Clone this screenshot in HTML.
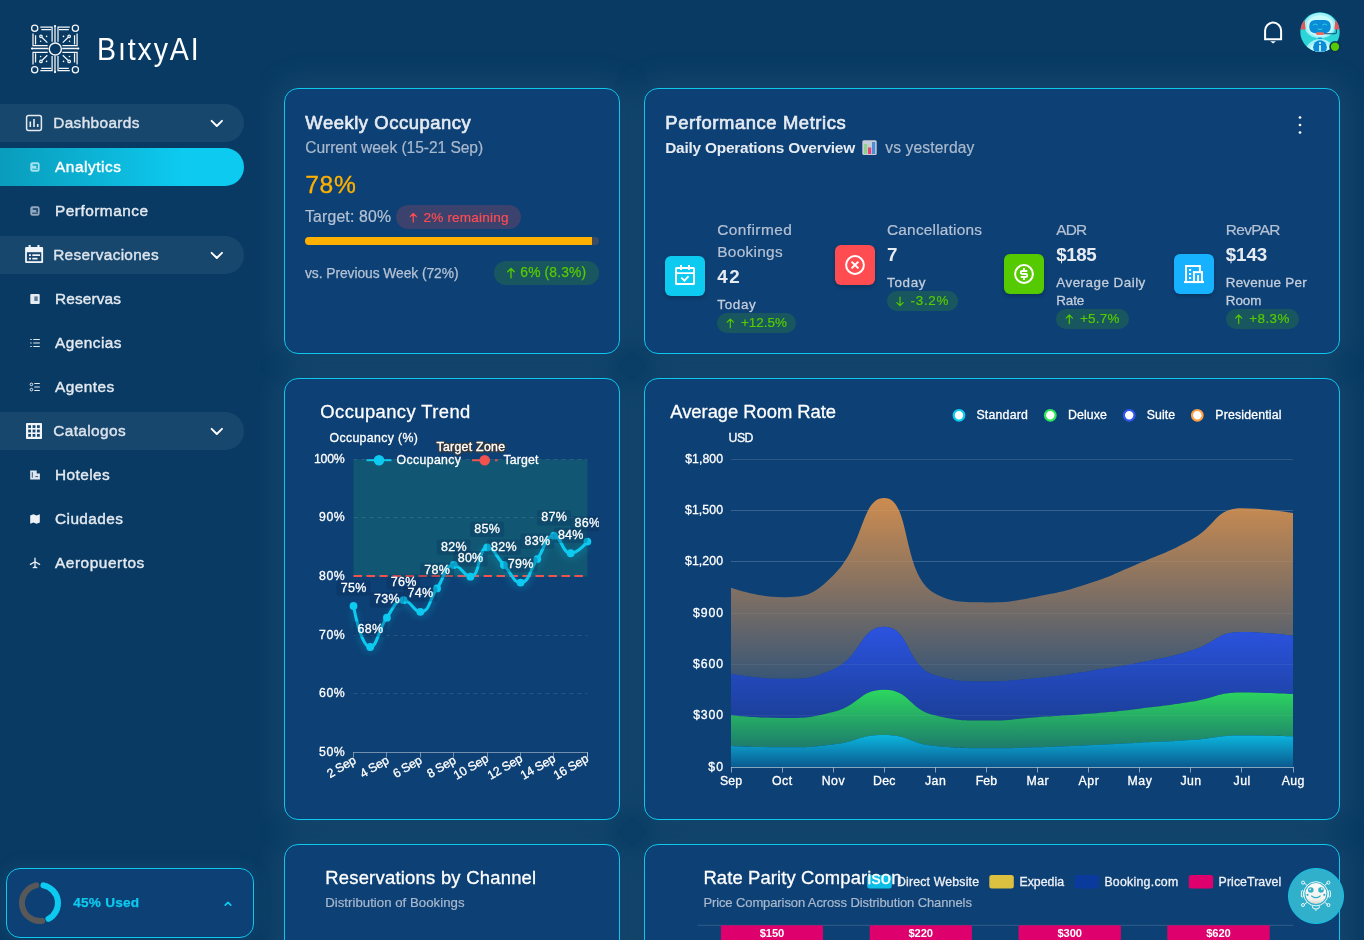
<!DOCTYPE html>
<html lang="en"><head><meta charset="utf-8"><title>BıtxyAI - Analytics</title>
<style>
html,body{margin:0;padding:0}
body{width:1364px;height:940px;overflow:hidden;background:#083a63;font-family:"Liberation Sans",sans-serif;position:relative;color:#fff}
.t{position:absolute;white-space:nowrap;line-height:1;color:#fff}
.abs{position:absolute}
.card{position:absolute;box-sizing:border-box;background:#0d4074;border:1px solid #0fc6ec;border-radius:14px}
.sh{position:absolute;border-radius:14px;box-shadow:0 0 32px 8px rgba(120,170,190,.12)}
.pill{position:absolute;left:0;width:244px;height:38px;border-radius:0 19px 19px 0;background:rgba(255,255,255,.068)}
.pill.on{background:linear-gradient(90deg,#0a9cbc 0%,#0cb4d6 40%,#0dcaf0 75%)}
.badge{position:absolute;box-sizing:border-box;border-radius:12px}
.bg-g{background:rgba(86,202,0,.17)}
.bg-r{background:rgba(255,76,81,.19)}
.ib{position:absolute;width:40px;height:40px;border-radius:6px;box-shadow:0 2px 4px rgba(0,0,0,.2)}
svg{position:absolute;left:0;top:0;overflow:visible}
</style></head><body>
<div class="sh" style="left:284px;top:844px;width:336px;height:140px"></div><div class="sh" style="left:644px;top:844px;width:696px;height:140px"></div><div class="sh" style="left:284px;top:88px;width:336px;height:266px"></div><div class="sh" style="left:644px;top:88px;width:696px;height:266px"></div><div class="sh" style="left:284px;top:378px;width:336px;height:442px"></div><div class="sh" style="left:644px;top:378px;width:696px;height:442px"></div><div id="sidebar-bg" class="abs" style="left:0;top:0;width:260px;height:940px;background:#083a63"></div><div class="sh" style="left:6px;top:868px;width:248px;height:70px;box-shadow:0 0 18px 2px rgba(120,170,190,.10)"></div>
<div class="card" style="left:284px;top:844px;width:336px;height:140px"></div>
<div class="card" style="left:644px;top:844px;width:696px;height:140px"></div>
<span class="t" style="left:325.2px;top:868.82px;font-size:18.4px;letter-spacing:0.251px;-webkit-text-stroke:.3px #fff;">Reservations by Channel</span>
<span class="t" style="left:325.2px;top:896.23px;font-size:13.2px;color:#a9b9ce;letter-spacing:0.033px;-webkit-text-stroke:.2px #a9b9ce;">Distribution of Bookings</span>
<svg width="1364" height="940" viewBox="0 0 1364 940" fill="none"><path d="M697.700 925.300H1293" stroke="rgba(255,255,255,.15)" stroke-width="1"/><rect x="867.2" y="875" width="24.500" height="13.500" rx="2.500" fill="#0dbfe6"/><rect x="989.3" y="875" width="24.500" height="13.500" rx="2.500" fill="#dcc040"/><rect x="1074.5" y="875" width="24.500" height="13.500" rx="2.500" fill="#0a3a9c"/><rect x="1188.7" y="875" width="24.500" height="13.500" rx="2.500" fill="#de006c"/><rect x="720.9" y="925.300" width="102.1" height="20" fill="#de006c"/><rect x="869.7" y="925.300" width="102.2" height="20" fill="#de006c"/><rect x="1018.5" y="925.300" width="102.4" height="20" fill="#de006c"/><rect x="1167.3" y="925.300" width="102.4" height="20" fill="#de006c"/></svg>
<span class="t" style="left:703.4px;top:868.82px;font-size:18.4px;letter-spacing:0.132px;-webkit-text-stroke:.3px #fff;">Rate Parity Comparison</span>
<span class="t" style="left:703.4px;top:896.4px;font-size:13px;color:#a9b9ce;letter-spacing:-0.105px;-webkit-text-stroke:.2px #a9b9ce;">Price Comparison Across Distribution Channels</span>
<span class="t" style="left:897px;top:875.89px;font-size:12.3px;color:#eef1f6;letter-spacing:0.174px;-webkit-text-stroke:.3px #eef1f6;">Direct Website</span>
<span class="t" style="left:1019.5px;top:875.89px;font-size:12.3px;color:#eef1f6;letter-spacing:0.008px;-webkit-text-stroke:.3px #eef1f6;">Expedia</span>
<span class="t" style="left:1104.4px;top:875.89px;font-size:12.3px;color:#eef1f6;letter-spacing:0.271px;-webkit-text-stroke:.3px #eef1f6;">Booking.com</span>
<span class="t" style="left:1218.6px;top:875.89px;font-size:12.3px;color:#eef1f6;letter-spacing:0.087px;-webkit-text-stroke:.3px #eef1f6;">PriceTravel</span>
<span class="t" style="left:759.7px;top:927.92px;font-size:11.2px;font-weight:700;letter-spacing:-0.097px;">$150</span>
<span class="t" style="left:908.5px;top:927.92px;font-size:11.2px;font-weight:700;letter-spacing:-0.097px;">$220</span>
<span class="t" style="left:1057.4px;top:927.92px;font-size:11.2px;font-weight:700;letter-spacing:-0.097px;">$300</span>
<span class="t" style="left:1206.2px;top:927.92px;font-size:11.2px;font-weight:700;letter-spacing:-0.097px;">$620</span>
<div class="abs" style="left:1288px;top:868px;width:56px;height:56px;border-radius:50%;background:#31b0cb;box-sizing:border-box;border:1px solid #12c4ea"></div>
<svg width="1364" height="940" viewBox="0 0 1364 940" fill="none" stroke="#fff" stroke-width=".9">
<defs><linearGradient id="fg" x1="0" y1="0" x2="0" y2="1"><stop offset="0" stop-color="#fafaf8"/><stop offset=".75" stop-color="#f3f2ee"/><stop offset="1" stop-color="#d9d6cf"/></linearGradient></defs>
<circle cx="1315.900" cy="893.800" r="12.100"/>
<circle cx="1315.900" cy="893.600" r="10.500" fill="url(#fg)" stroke="none"/>
<circle cx="1310.800" cy="890" r="2.800" fill="#31b0cb" stroke="none"/><circle cx="1321" cy="890" r="2.800" fill="#31b0cb" stroke="none"/>
<circle cx="1310.200" cy="889.300" r=".9" fill="#f5f5f3" stroke="none"/><circle cx="1321.900" cy="889" r=".9" fill="#f5f5f3" stroke="none"/>
<path d="M1311.600 896q4.300 3.400 8.600 0" stroke="#31b0cb" stroke-width="1.200" stroke-linecap="round"/>
<circle cx="1307.500" cy="894.800" r="1.100" fill="#31b0cb" stroke="none"/><circle cx="1324.300" cy="894.800" r="1.100" fill="#31b0cb" stroke="none"/>
<path d="M1307.200 885.400l-3-2.400M1324.600 885.400l3-2.400M1307.200 902.200l-3 2.400M1324.600 902.200l3 2.400"/>
<circle cx="1303" cy="882.600" r="1.500"/><circle cx="1328.400" cy="882.600" r="1.500"/><circle cx="1303" cy="905" r="1.500"/><circle cx="1328.400" cy="905" r="1.500"/>
<rect x="1301.400" y="890.600" width="2" height="6.600" rx="1"/><rect x="1328.400" y="890.600" width="2" height="6.600" rx="1"/>
<path d="M1312.500 906.200v1.600q3.400 2.600 6.800 0v-1.600M1314.800 909.300l1.100 1.200 1.100-1.200"/>
</svg>
<svg width="1364" height="940" viewBox="0 0 1364 940" fill="none" stroke="#f4f6f9" stroke-width="1.250"><g id="logo"><circle cx="34.700" cy="28.150" r="3.100"/><circle cx="75.400" cy="28.150" r="3.100"/><circle cx="34.700" cy="69.650" r="3.100"/><circle cx="75.400" cy="69.650" r="3.100"/><circle cx="55.300" cy="49" r="6.050" stroke-width="1.400"/><path d="M55 26V42.300M55 55.800V72M32 48.500H48.400M62.200 48.500H78.200" stroke-width="1.300"/><circle cx="55" cy="26" r="1.100" fill="#fff" stroke="none"/><circle cx="55" cy="72.100" r="1.100" fill="#fff" stroke="none"/><circle cx="32" cy="48.500" r="1.100" fill="#fff" stroke="none"/><circle cx="78.300" cy="48.500" r="1.100" fill="#fff" stroke="none"/><g><path d="M40.300 27.100H52.100V41.700M41.300 29.550H51.100M33 33.400V45.500H47.700M35.550 35.300V44.500"/><circle cx="40.950" cy="36.350" r="1.250"/><path d="M42.100 37.500L47.300 42.600"/><circle cx="46.600" cy="36.400" r=".8" fill="#fff" stroke="none"/><circle cx="40.600" cy="41.300" r=".8" fill="#fff" stroke="none"/></g><g transform="translate(110.100 0) scale(-1 1)"><path d="M40.300 27.100H52.100V41.700M41.300 29.550H51.100M33 33.400V45.500H47.700M35.550 35.300V44.500"/><circle cx="40.950" cy="36.350" r="1.250"/><path d="M42.100 37.500L47.300 42.600"/><circle cx="46.600" cy="36.400" r=".8" fill="#fff" stroke="none"/><circle cx="40.600" cy="41.300" r=".8" fill="#fff" stroke="none"/></g><g transform="translate(0 97.800) scale(1 -1)"><path d="M40.300 27.100H52.100V41.700M41.300 29.550H51.100M33 33.400V45.500H47.700M35.550 35.300V44.500"/><circle cx="40.950" cy="36.350" r="1.250"/><path d="M42.100 37.500L47.300 42.600"/><circle cx="46.600" cy="36.400" r=".8" fill="#fff" stroke="none"/><circle cx="40.600" cy="41.300" r=".8" fill="#fff" stroke="none"/></g><g transform="translate(110.100 97.800) scale(-1 -1)"><path d="M40.300 27.100H52.100V41.700M41.300 29.550H51.100M33 33.400V45.500H47.700M35.550 35.300V44.500"/><circle cx="40.950" cy="36.350" r="1.250"/><path d="M42.100 37.500L47.300 42.600"/><circle cx="46.600" cy="36.400" r=".8" fill="#fff" stroke="none"/><circle cx="40.600" cy="41.300" r=".8" fill="#fff" stroke="none"/></g></g></svg>
<span class="t" style="left:96.6px;top:34.06px;font-size:31px;letter-spacing:2.049px;transform:scaleX(.92);transform-origin:0 0;">BıtxyAI</span>
<div class="pill" style="top:104px"></div>
<div class="pill" style="top:236px"></div>
<div class="pill" style="top:412px"></div>
<div class="pill on" style="top:148px"></div>
<span class="t" style="left:53.2px;top:114.96px;font-size:15.4px;color:#dde4ed;letter-spacing:0.367px;-webkit-text-stroke:.4px #dde4ed;">Dashboards</span>
<span class="t" style="left:53.2px;top:246.96px;font-size:15.4px;color:#dde4ed;letter-spacing:0.307px;-webkit-text-stroke:.4px #dde4ed;">Reservaciones</span>
<span class="t" style="left:53.2px;top:423.46px;font-size:15.4px;color:#dde4ed;letter-spacing:0.398px;-webkit-text-stroke:.4px #dde4ed;">Catalogos</span>
<span class="t" style="left:55px;top:158.96px;font-size:15.4px;letter-spacing:0.551px;-webkit-text-stroke:.4px #fff;">Analytics</span>
<span class="t" style="left:55px;top:202.96px;font-size:15.4px;color:#e4e9f0;letter-spacing:0.489px;-webkit-text-stroke:.4px #e4e9f0;">Performance</span>
<span class="t" style="left:55px;top:290.96px;font-size:15.4px;color:#e4e9f0;letter-spacing:0.141px;-webkit-text-stroke:.4px #e4e9f0;">Reservas</span>
<span class="t" style="left:55px;top:334.96px;font-size:15.4px;color:#e4e9f0;letter-spacing:0.453px;-webkit-text-stroke:.4px #e4e9f0;">Agencias</span>
<span class="t" style="left:55px;top:378.96px;font-size:15.4px;color:#e4e9f0;letter-spacing:0.453px;-webkit-text-stroke:.4px #e4e9f0;">Agentes</span>
<span class="t" style="left:55px;top:466.96px;font-size:15.4px;color:#e4e9f0;letter-spacing:0.435px;-webkit-text-stroke:.4px #e4e9f0;">Hoteles</span>
<span class="t" style="left:55px;top:510.96px;font-size:15.4px;color:#e4e9f0;letter-spacing:0.424px;-webkit-text-stroke:.4px #e4e9f0;">Ciudades</span>
<span class="t" style="left:55px;top:554.96px;font-size:15.4px;color:#e4e9f0;letter-spacing:0.544px;-webkit-text-stroke:.4px #e4e9f0;">Aeropuertos</span>
<svg width="1364" height="940" viewBox="0 0 1364 940" fill="none"><path d="M211.6 120.8 L216.8 126 L222 120.8" stroke="#fff" stroke-width="1.9" stroke-linecap="round" stroke-linejoin="round"/><path d="M211.6 252.8 L216.8 258 L222 252.8" stroke="#fff" stroke-width="1.9" stroke-linecap="round" stroke-linejoin="round"/><path d="M211.6 428.8 L216.8 434 L222 428.8" stroke="#fff" stroke-width="1.9" stroke-linecap="round" stroke-linejoin="round"/><rect x="26.6" y="115.6" width="14.8" height="14.8" rx="2" stroke="#e6ebf2" stroke-width="1.5"/><path d="M30.3 121.5V127M34 119V127M37.7 124V127" stroke="#e6ebf2" stroke-width="1.6"/><rect x="25.100" y="247.100" width="18" height="15.900" rx="1" fill="#f1f4f8"/><rect x="28.600" y="245" width="2.100" height="3.500" fill="#f1f4f8"/><rect x="37.400" y="245" width="2.100" height="3.500" fill="#f1f4f8"/><rect x="26.900" y="252.200" width="14.400" height="9" fill="#1a4770"/><rect x="29" y="254.300" width="2" height="1.700" fill="#f1f4f8"/><rect x="32.300" y="254.300" width="7.700" height="1.700" fill="#f1f4f8"/><rect x="29" y="257.800" width="2" height="1.700" fill="#f1f4f8"/><rect x="32.300" y="257.800" width="5.200" height="1.700" fill="#f1f4f8"/><rect x="26" y="423" width="16" height="16" rx=".8" fill="#f1f4f8"/><rect x="28.2" y="425.2" width="2.800" height="2.800" fill="#1a4770"/><rect x="28.2" y="429.59999999999997" width="2.800" height="2.800" fill="#1a4770"/><rect x="28.2" y="434.0" width="2.800" height="2.800" fill="#1a4770"/><rect x="32.6" y="425.2" width="2.800" height="2.800" fill="#1a4770"/><rect x="32.6" y="429.59999999999997" width="2.800" height="2.800" fill="#1a4770"/><rect x="32.6" y="434.0" width="2.800" height="2.800" fill="#1a4770"/><rect x="37.0" y="425.2" width="2.800" height="2.800" fill="#1a4770"/><rect x="37.0" y="429.59999999999997" width="2.800" height="2.800" fill="#1a4770"/><rect x="37.0" y="434.0" width="2.800" height="2.800" fill="#1a4770"/><rect x="30.300" y="162.2" width="9.300" height="9.500" rx="2.200" fill="#a4e2f0"/><path d="M32.700 165h4.400v3.300" stroke="#0aa4c6" stroke-width="1.500" fill="none"/><path d="M32.200 169.2h5.700" stroke="#0aa4c6" stroke-width="1"/><rect x="30.300" y="206.2" width="9.300" height="9.500" rx="2.200" fill="#93a7bd"/><path d="M32.700 209h4.400v3.300" stroke="#0b3963" stroke-width="1.500" fill="none"/><path d="M32.200 213.2h5.700" stroke="#0b3963" stroke-width="1"/><rect x="30.3" y="294" width="9.4" height="10" rx="1" fill="#e6ebf2"/><rect x="34.3" y="296.4" width="3.4" height="4.6" fill="#5b7a9a"/><path d="M30.3 339.5h1.4M33.3 339.5h6.5M30.3 343h1.4M33.3 343h6.5M30.3 346.5h1.4M33.3 346.5h6.5" stroke="#e6ebf2" stroke-width="1.2"/><path d="M34.3 383.5h5.5M34.3 387h5.5M34.3 390.5h5.5" stroke="#e6ebf2" stroke-width="1.2"/><circle cx="31.4" cy="384.4" r="1.3" stroke="#e6ebf2" stroke-width="1"/><circle cx="31.4" cy="389.6" r="1.3" stroke="#e6ebf2" stroke-width="1"/><path d="M30.2 470.4h6.5v3h3.2v6.2h-9.7z" fill="#dfe5ee"/><path d="M32.3 472.2v5.5M35.4 476.6h2.6" stroke="#335577" stroke-width="1"/><path d="M30.2 515.4l3.2 -1.2 3.2 1.2 3.2 -1.2v8.4l-3.2 1.2 -3.2 -1.2 -3.2 1.2z" fill="#eef1f6"/><path d="M35 558.2v9.5M30.4 564.4l4.6 -2.6 4.6 2.6M33.2 567.8l1.8 -1 1.8 1" stroke="#eef1f6" stroke-width="1.3" stroke-linejoin="round" stroke-linecap="round"/></svg>
<div class="card" style="left:6px;top:868px;width:248px;height:70px"></div>
<svg width="1364" height="940" viewBox="0 0 1364 940" fill="none"><path d="M42.19 920.87A18 18 0 0 1 36.26 885.39" stroke="#585858" stroke-width="6" stroke-linecap="round"/><path d="M43.43 885.33A18 18 0 0 1 48.45 918.89" stroke="#0dcaf0" stroke-width="6" stroke-linecap="round"/><path d="M225.200 905.200L228 902.400L230.800 905.200" stroke="#0dcaf0" stroke-width="1.700" stroke-linecap="round" stroke-linejoin="round"/></svg>
<span class="t" style="left:73.2px;top:896.49px;font-size:13.6px;font-weight:700;color:#0dcaf0;letter-spacing:0.252px;-webkit-text-stroke:.25px #0dcaf0;">45% Used</span>
<svg width="1364" height="940" viewBox="0 0 1364 940" fill="none">
<path d="M1265.1 39.3V30.6a8 8 0 0 1 16 0V39.3Z" stroke="#fff" stroke-width="2" stroke-linejoin="miter"/>
<path d="M1270.2 41.2h5.8l-2.9 2.4z" fill="#fff"/>
<g id="avatar">
<clipPath id="avc"><circle cx="1320" cy="32" r="19.700"/></clipPath>
<g clip-path="url(#avc)">
<rect x="1300" y="12" width="40" height="40" fill="#2bd5d8"/>
<ellipse cx="1320" cy="25.400" rx="15.600" ry="12.700" fill="#9ff1f7"/>
<ellipse cx="1320" cy="25.800" rx="13.200" ry="10.600" fill="#c6fbfd"/>
<path d="M1300.400 29.600c.2-4.600 1.800-8.200 4.200-10l1 10z" fill="#e4565c"/><path d="M1339.600 29.600c-.2-4.600-1.800-8.200-4.200-10l-1 10z" fill="#e4565c"/>
<rect x="1309.300" y="19.900" width="21.400" height="13.400" rx="5.800" fill="#0a8cd8"/>
<path d="M1313.200 24.800q2.100-2 4.200 0M1322.600 24.800q2.100-2 4.200 0M1317.900 28.900q2.100 1.900 4.200 0" stroke="#2bd5d8" stroke-width="1" stroke-linecap="round"/>
<path d="M1336.400 29.600v2.600q0 1.500-1.800 1.500H1322" stroke="#124a7c" stroke-width="1.100"/>
<rect x="1316" y="32.300" width="8" height="2.600" rx="1.300" fill="#ee6a5c"/>
<rect x="1318.200" y="37.600" width="3.600" height="1.300" fill="#0a8cd8"/>
<ellipse cx="1320" cy="53.500" rx="15" ry="14.600" fill="#9ff1f7"/>
<ellipse cx="1320" cy="54.500" rx="11.500" ry="13" fill="#c6fbfd"/>
<circle cx="1320" cy="47.200" r="6.900" fill="#0a8cd8"/>
<rect x="1319.200" y="45.200" width="1.600" height="6.500" fill="#e9fdff"/><circle cx="1320" cy="43" r="1" fill="#e9fdff"/>
</g>
<circle cx="1335" cy="46.800" r="5.700" fill="#0a2f5e"/><circle cx="1335" cy="46.800" r="4.200" fill="#56ca00"/>
</g></svg>
<div class="card" style="left:284px;top:88px;width:336px;height:266px"></div>
<span class="t" style="left:305.3px;top:113.62px;font-size:18.4px;color:#e6ebf2;letter-spacing:0.561px;-webkit-text-stroke:.65px #e6ebf2;">Weekly Occupancy</span>
<span class="t" style="left:305.2px;top:140.29px;font-size:15.6px;color:#a9b9ce;letter-spacing:-0.062px;-webkit-text-stroke:.2px #a9b9ce;">Current week (15-21 Sep)</span>
<span class="t" style="left:305.3px;top:173.48px;font-size:24.6px;color:#ffb000;letter-spacing:0.633px;-webkit-text-stroke:.35px #ffb000;">78%</span>
<span class="t" style="left:305px;top:209.13px;font-size:15.8px;color:#b4c2d4;letter-spacing:0.169px;-webkit-text-stroke:.2px #b4c2d4;">Target: 80%</span>
<div class="badge bg-r" style="left:395.6px;top:205px;width:125.4px;height:24px"></div>
<span class="t" style="left:423.4px;top:210.79px;font-size:13.6px;color:#ff4c51;letter-spacing:0.189px;-webkit-text-stroke:.2px #ff4c51;">2% remaining</span>
<div class="abs" style="left:305px;top:237px;width:294px;height:8px;border-radius:4px;background:#3a4b63;overflow:hidden"><div style="width:287px;height:8px;background:#ffb000"></div></div>
<span class="t" style="left:305px;top:266.72px;font-size:13.8px;color:#b4c2d4;letter-spacing:-0.052px;-webkit-text-stroke:.25px #b4c2d4;">vs. Previous Week (72%)</span>
<div class="badge bg-g" style="left:494.3px;top:261px;width:104.700px;height:24px"></div>
<span class="t" style="left:520.3px;top:266.02px;font-size:13.8px;color:#56ca00;letter-spacing:0.172px;-webkit-text-stroke:.25px #56ca00;">6% (8.3%)</span>
<svg width="1364" height="940" viewBox="0 0 1364 940"><path d="M413.3 222.10000000000002V213.5M410.2 216.6L413.3 213.5L416.40000000000003 216.6" stroke="#ff4c51" stroke-width="1.25" fill="none" stroke-linecap="round" stroke-linejoin="round"/><path d="M511 277.9V268.5M507.7 271.8L511 268.5L514.3 271.8" stroke="#56ca00" stroke-width="1.3" fill="none" stroke-linecap="round" stroke-linejoin="round"/></svg>
<div class="card" style="left:644px;top:88px;width:696px;height:266px"></div>
<span class="t" style="left:665.3px;top:113.62px;font-size:18.4px;color:#e6ebf2;letter-spacing:0.602px;-webkit-text-stroke:.65px #e6ebf2;">Performance Metrics</span>
<span class="t" style="left:665.2px;top:140.46px;font-size:15.4px;font-weight:700;color:#e6ebf2;letter-spacing:-0.21px;">Daily Operations Overview</span>
<span class="t" style="left:885.3px;top:140.29px;font-size:15.6px;color:#a9b9ce;letter-spacing:0.132px;-webkit-text-stroke:.2px #a9b9ce;">vs yesterday</span>
<div class="ib" style="left:665px;top:256px;background:#0dcaf0"></div>
<div class="ib" style="left:835px;top:245px;background:#ff4c51"></div>
<div class="ib" style="left:1004px;top:254px;background:#56ca00"></div>
<div class="ib" style="left:1174px;top:254px;background:#16b1ff"></div>
<span class="t" style="left:717.3px;top:222.26px;font-size:15.4px;color:#b4c1d4;letter-spacing:0.425px;-webkit-text-stroke:.2px #b4c1d4;">Confirmed</span>
<span class="t" style="left:717.3px;top:244.06px;font-size:15.4px;color:#b4c1d4;letter-spacing:0.282px;-webkit-text-stroke:.2px #b4c1d4;">Bookings</span>
<span class="t" style="left:717.3px;top:267.79px;font-size:18.8px;font-weight:700;color:#e6ebf2;letter-spacing:1.509px;">42</span>
<span class="t" style="left:717.3px;top:297.86px;font-size:13.4px;color:#c3cddb;letter-spacing:0.691px;-webkit-text-stroke:.3px #c3cddb;">Today</span>
<div class="badge bg-g" style="left:717.3px;top:313.2px;width:78.5px;height:20px;border-radius:10px"></div>
<span class="t" style="left:740.9px;top:316.16px;font-size:13.4px;color:#56ca00;letter-spacing:0.041px;-webkit-text-stroke:.2px #56ca00;">+12.5%</span>
<span class="t" style="left:887px;top:222.26px;font-size:15.4px;color:#b4c1d4;letter-spacing:0.216px;-webkit-text-stroke:.2px #b4c1d4;">Cancellations</span>
<span class="t" style="left:887px;top:245.99px;font-size:18.8px;font-weight:700;color:#e6ebf2;">7</span>
<span class="t" style="left:887px;top:276.06px;font-size:13.4px;color:#c3cddb;letter-spacing:0.691px;-webkit-text-stroke:.3px #c3cddb;">Today</span>
<div class="badge bg-g" style="left:887px;top:291.2px;width:71px;height:20px;border-radius:10px"></div>
<span class="t" style="left:910.6px;top:294.16px;font-size:13.4px;color:#56ca00;letter-spacing:0.704px;-webkit-text-stroke:.2px #56ca00;">-3.2%</span>
<span class="t" style="left:1056.3px;top:222.26px;font-size:15.4px;color:#b4c1d4;letter-spacing:-0.9px;-webkit-text-stroke:.2px #b4c1d4;">ADR</span>
<span class="t" style="left:1056.3px;top:245.99px;font-size:18.8px;font-weight:700;color:#e6ebf2;letter-spacing:-0.427px;">$185</span>
<span class="t" style="left:1056.3px;top:276.06px;font-size:13.4px;color:#c3cddb;letter-spacing:0.49px;-webkit-text-stroke:.3px #c3cddb;">Average Daily</span>
<span class="t" style="left:1056.3px;top:293.86px;font-size:13.4px;color:#c3cddb;letter-spacing:-0.099px;-webkit-text-stroke:.3px #c3cddb;">Rate</span>
<div class="badge bg-g" style="left:1056.3px;top:309.1px;width:72.3px;height:20px;border-radius:10px"></div>
<span class="t" style="left:1079.9px;top:312.06px;font-size:13.4px;color:#56ca00;letter-spacing:0.289px;-webkit-text-stroke:.2px #56ca00;">+5.7%</span>
<span class="t" style="left:1225.7px;top:222.26px;font-size:15.4px;color:#b4c1d4;letter-spacing:-0.615px;-webkit-text-stroke:.2px #b4c1d4;">RevPAR</span>
<span class="t" style="left:1225.7px;top:245.99px;font-size:18.8px;font-weight:700;color:#e6ebf2;letter-spacing:-0.094px;">$143</span>
<span class="t" style="left:1225.7px;top:276.06px;font-size:13.4px;color:#c3cddb;letter-spacing:0.283px;-webkit-text-stroke:.3px #c3cddb;">Revenue Per</span>
<span class="t" style="left:1225.7px;top:293.86px;font-size:13.4px;color:#c3cddb;letter-spacing:0.022px;-webkit-text-stroke:.3px #c3cddb;">Room</span>
<div class="badge bg-g" style="left:1225.7px;top:309.1px;width:72.9px;height:20px;border-radius:10px"></div>
<span class="t" style="left:1249.3px;top:312.06px;font-size:13.4px;color:#56ca00;letter-spacing:0.414px;-webkit-text-stroke:.2px #56ca00;">+8.3%</span>
<svg width="1364" height="940" viewBox="0 0 1364 940" fill="none"><rect x="862.300" y="140.300" width="14.400" height="14.600" rx="1.500" fill="#c7cdd6"/><rect x="864" y="144" width="3.200" height="10" fill="#8fd28a"/><rect x="868" y="147.500" width="3.200" height="6.500" fill="#e0457b"/><rect x="872" y="142" width="3.200" height="12" fill="#4a90d9"/><circle cx="1300" cy="117.5" r="1.350" fill="#fff"/><circle cx="1300" cy="125" r="1.350" fill="#fff"/><circle cx="1300" cy="132.5" r="1.350" fill="#fff"/><rect x="676" y="268.050" width="18" height="16.050" rx=".6" stroke="#fff" stroke-width="1.950" fill="none"/><path d="M676 273.100h18M681.050 265v5.050M689 265v5.050" stroke="#fff" stroke-width="1.950"/><path d="M681.300 277.650l3.100 2.950 4.200-4.450" stroke="#fff" stroke-width="1.900" fill="none"/><circle cx="855" cy="265" r="8.900" stroke="#fff" stroke-width="2"/><path d="M851.6 261.6l6.800 6.800M858.4 261.6l-6.800 6.800" stroke="#fff" stroke-width="2"/><circle cx="1024" cy="274" r="8.900" stroke="#fff" stroke-width="2"/><path d="M1027.300 271H1022.200a1.500 1.500 0 0 0 0 3H1025.800a1.500 1.500 0 0 1 0 3H1020.700M1024 268V270.500M1024 277.500V280" stroke="#fff" stroke-width="1.850" fill="none"/><rect x="1184" y="281" width="20" height="2.1" fill="#fff"/><rect x="1185.05" y="265.05" width="1.95" height="16.5" fill="#fff"/><rect x="1185.05" y="265.05" width="15.8" height="1.95" fill="#fff"/><rect x="1198.9" y="265.05" width="1.95" height="6.5" fill="#fff"/><rect x="1192.95" y="271.2" width="9.95" height="1.95" fill="#fff"/><rect x="1192.95" y="271.2" width="1.95" height="10.3" fill="#fff"/><rect x="1200.95" y="271.2" width="1.95" height="10.3" fill="#fff"/><rect x="1197.1" y="275.05" width="1.95" height="6.5" fill="#fff"/><rect x="1188.95" y="268.95" width="2.2" height="1.95" fill="#fff"/><rect x="1188.95" y="273" width="2.2" height="1.95" fill="#fff"/><rect x="1188.95" y="277" width="2.2" height="1.95" fill="#fff"/><path d="M730.3 327.7V319.09999999999997M727.1999999999999 322.2L730.3 319.09999999999997L733.4 322.2" stroke="#56ca00" stroke-width="1.2" fill="none" stroke-linecap="round" stroke-linejoin="round"/><path d="M900 297.09999999999997V305.7M896.9 302.59999999999997L900 305.7L903.1 302.59999999999997" stroke="#56ca00" stroke-width="1.2" fill="none" stroke-linecap="round" stroke-linejoin="round"/><path d="M1069.3 323.6V315.0M1066.2 318.1L1069.3 315.0L1072.3999999999999 318.1" stroke="#56ca00" stroke-width="1.2" fill="none" stroke-linecap="round" stroke-linejoin="round"/><path d="M1238.7 323.6V315.0M1235.6000000000001 318.1L1238.7 315.0L1241.8 318.1" stroke="#56ca00" stroke-width="1.2" fill="none" stroke-linecap="round" stroke-linejoin="round"/></svg>
<div class="card" style="left:284px;top:378px;width:336px;height:442px"></div>
<div class="abs" style="left:0;top:0;width:599px;height:940px;overflow:hidden">
<span class="t" style="left:320.3px;top:402.62px;font-size:18.4px;letter-spacing:0.419px;-webkit-text-stroke:.3px #fff;">Occupancy Trend</span>
<svg width="1364" height="940" viewBox="0 0 1364 940" fill="none"><defs><filter id="glow" x="-20%" y="-40%" width="140%" height="180%"><feGaussianBlur stdDeviation="3.5"/></filter></defs><rect x="353.5" y="459.5" width="233.9" height="117.2" fill="rgba(40,200,110,.17)"/><path d="M353.5 693.5H587.4" stroke="rgba(255,255,255,.11)" stroke-width="1" stroke-dasharray="4 4"/><path d="M353.5 635.5H587.4" stroke="rgba(255,255,255,.11)" stroke-width="1" stroke-dasharray="4 4"/><path d="M353.5 517.5H587.4" stroke="rgba(255,255,255,.11)" stroke-width="1" stroke-dasharray="4 4"/><path d="M353.5 459.5H587.4" stroke="rgba(255,255,255,.11)" stroke-width="1" stroke-dasharray="4 4"/><path d="M353.0 752.5H587.9" stroke="rgba(255,255,255,.42)" stroke-width="1"/><path d="M353.5 752.5v5" stroke="rgba(255,255,255,.42)" stroke-width="1"/><path d="M386.5 752.5v5" stroke="rgba(255,255,255,.42)" stroke-width="1"/><path d="M420.5 752.5v5" stroke="rgba(255,255,255,.42)" stroke-width="1"/><path d="M453.5 752.5v5" stroke="rgba(255,255,255,.42)" stroke-width="1"/><path d="M487.5 752.5v5" stroke="rgba(255,255,255,.42)" stroke-width="1"/><path d="M520.5 752.5v5" stroke="rgba(255,255,255,.42)" stroke-width="1"/><path d="M553.5 752.5v5" stroke="rgba(255,255,255,.42)" stroke-width="1"/><path d="M587.5 752.5v5" stroke="rgba(255,255,255,.42)" stroke-width="1"/><path d="M587.5 752.5v5" stroke="rgba(255,255,255,.42)" stroke-width="1"/><path d="M353.5 576H587.4" stroke="#f0524f" stroke-width="2" stroke-dasharray="8.500 4.500"/><path d="M353.5 606C353.5 606 360.72 647.02 370.21 647.02C377.43 647.02 377.2 631.36 386.91 617.72C393.9 607.92 394.55 600.14 403.62 600.14C411.26 600.14 413.4 611.86 420.33 611.86C430.1 611.86 428.68 600.14 437.04 588.42C445.39 576.7 443.97 564.98 453.74 564.98C460.67 564.98 464.15 576.7 470.45 576.7C480.86 576.7 477.44 547.4 487.16 547.4C494.15 547.4 495.51 556.19 503.86 564.98C512.22 573.77 512.93 582.56 520.57 582.56C529.64 582.56 528.93 570.84 537.28 559.12C545.63 547.4 544.92 535.68 553.99 535.68C561.63 535.68 561.62 553.26 570.69 553.26C578.33 553.26 587.4 541.54 587.4 541.54" stroke="#0dcaf0" stroke-width="5" opacity=".26" filter="url(#glow)" transform="translate(0,3)"/><path d="M353.5 606C353.5 606 360.72 647.02 370.21 647.02C377.43 647.02 377.2 631.36 386.91 617.72C393.9 607.92 394.55 600.14 403.62 600.14C411.26 600.14 413.4 611.86 420.33 611.86C430.1 611.86 428.68 600.14 437.04 588.42C445.39 576.7 443.97 564.98 453.74 564.98C460.67 564.98 464.15 576.7 470.45 576.7C480.86 576.7 477.44 547.4 487.16 547.4C494.15 547.4 495.51 556.19 503.86 564.98C512.22 573.77 512.93 582.56 520.57 582.56C529.64 582.56 528.93 570.84 537.28 559.12C545.63 547.4 544.92 535.68 553.99 535.68C561.63 535.68 561.62 553.26 570.69 553.26C578.33 553.26 587.4 541.54 587.4 541.54" stroke="#0dcaf0" stroke-width="3" stroke-linecap="round" stroke-linejoin="round"/><circle cx="353.5" cy="606" r="3.900" fill="#0dcaf0"/><circle cx="370.21" cy="647.02" r="3.900" fill="#0dcaf0"/><circle cx="386.91" cy="617.72" r="3.900" fill="#0dcaf0"/><circle cx="403.62" cy="600.14" r="3.900" fill="#0dcaf0"/><circle cx="420.33" cy="611.86" r="3.900" fill="#0dcaf0"/><circle cx="437.04" cy="588.42" r="3.900" fill="#0dcaf0"/><circle cx="453.74" cy="564.98" r="3.900" fill="#0dcaf0"/><circle cx="470.45" cy="576.7" r="3.900" fill="#0dcaf0"/><circle cx="487.16" cy="547.4" r="3.900" fill="#0dcaf0"/><circle cx="503.86" cy="564.98" r="3.900" fill="#0dcaf0"/><circle cx="520.57" cy="582.56" r="3.900" fill="#0dcaf0"/><circle cx="537.28" cy="559.12" r="3.900" fill="#0dcaf0"/><circle cx="553.99" cy="535.68" r="3.900" fill="#0dcaf0"/><circle cx="570.69" cy="553.26" r="3.900" fill="#0dcaf0"/><circle cx="587.4" cy="541.54" r="3.900" fill="#0dcaf0"/><rect x="336.5" y="580.4" width="34" height="15.300" rx="2" fill="rgba(8,36,84,.25)"/><rect x="353.21" y="621.42" width="34" height="15.300" rx="2" fill="rgba(8,36,84,.25)"/><rect x="369.91" y="592.12" width="34" height="15.300" rx="2" fill="rgba(8,36,84,.25)"/><rect x="386.62" y="574.54" width="34" height="15.300" rx="2" fill="rgba(8,36,84,.25)"/><rect x="403.33" y="586.26" width="34" height="15.300" rx="2" fill="rgba(8,36,84,.25)"/><rect x="420.04" y="562.82" width="34" height="15.300" rx="2" fill="rgba(8,36,84,.25)"/><rect x="436.74" y="539.38" width="34" height="15.300" rx="2" fill="rgba(8,36,84,.25)"/><rect x="453.45" y="551.1" width="34" height="15.300" rx="2" fill="rgba(8,36,84,.25)"/><rect x="470.16" y="521.8" width="34" height="15.300" rx="2" fill="rgba(8,36,84,.25)"/><rect x="486.86" y="539.38" width="34" height="15.300" rx="2" fill="rgba(8,36,84,.25)"/><rect x="503.57" y="556.96" width="34" height="15.300" rx="2" fill="rgba(8,36,84,.25)"/><rect x="520.28" y="533.52" width="34" height="15.300" rx="2" fill="rgba(8,36,84,.25)"/><rect x="536.99" y="510.08" width="34" height="15.300" rx="2" fill="rgba(8,36,84,.25)"/><rect x="553.69" y="527.66" width="34" height="15.300" rx="2" fill="rgba(8,36,84,.25)"/><rect x="570.4" y="515.94" width="34" height="15.300" rx="2" fill="rgba(8,36,84,.25)"/><path d="M366.500 460.200H391.500" stroke="#0dcaf0" stroke-width="2"/><circle cx="379" cy="460.200" r="5.300" fill="#0dcaf0"/><path d="M472 460.200H490M495 460.200H497.500" stroke="#f0524f" stroke-width="2"/><circle cx="484.700" cy="460.200" r="5.300" fill="#f0524f"/></svg>
<span class="t" style="left:329.5px;top:431.99px;font-size:12.3px;letter-spacing:0.353px;-webkit-text-stroke:.3px #fff;">Occupancy (%)</span>
<span class="t" style="left:436.5px;top:440.59px;font-size:12.3px;letter-spacing:0.287px;text-shadow:-1.2px -1.2px 0 #3a3a3a,1.2px -1.2px 0 #3a3a3a,-1.2px 1.2px 0 #3a3a3a,1.2px 1.2px 0 #3a3a3a,0 1.5px 0 #3a3a3a,0 -1.5px 0 #3a3a3a,1.5px 0 0 #3a3a3a,-1.5px 0 0 #3a3a3a;-webkit-text-stroke:.35px #fff;">Target Zone</span>
<span class="t" style="left:396.5px;top:453.89px;font-size:12.3px;letter-spacing:0.373px;-webkit-text-stroke:.3px #fff;">Occupancy</span>
<span class="t" style="left:503.5px;top:453.89px;font-size:12.3px;letter-spacing:0.163px;-webkit-text-stroke:.3px #fff;">Target</span>
<span class="t" style="left:319px;top:746.19px;font-size:12.3px;letter-spacing:0.588px;-webkit-text-stroke:.3px #fff;">50%</span>
<span class="t" style="left:319px;top:687.19px;font-size:12.3px;letter-spacing:0.588px;-webkit-text-stroke:.3px #fff;">60%</span>
<span class="t" style="left:319px;top:629.19px;font-size:12.3px;letter-spacing:0.588px;-webkit-text-stroke:.3px #fff;">70%</span>
<span class="t" style="left:319px;top:570.19px;font-size:12.3px;letter-spacing:0.588px;-webkit-text-stroke:.3px #fff;">80%</span>
<span class="t" style="left:319px;top:511.19px;font-size:12.3px;letter-spacing:0.588px;-webkit-text-stroke:.3px #fff;">90%</span>
<span class="t" style="left:314px;top:453.19px;font-size:12.3px;letter-spacing:-0.218px;-webkit-text-stroke:.3px #fff;">100%</span>
<span class="t" style="left:340.7px;top:581.62px;font-size:12.5px;letter-spacing:0.284px;-webkit-text-stroke:.3px #fff;">75%</span>
<span class="t" style="left:357.41px;top:622.64px;font-size:12.5px;letter-spacing:0.284px;-webkit-text-stroke:.3px #fff;">68%</span>
<span class="t" style="left:374.11px;top:593.34px;font-size:12.5px;letter-spacing:0.284px;-webkit-text-stroke:.3px #fff;">73%</span>
<span class="t" style="left:390.82px;top:575.76px;font-size:12.5px;letter-spacing:0.284px;-webkit-text-stroke:.3px #fff;">76%</span>
<span class="t" style="left:407.53px;top:587.48px;font-size:12.5px;letter-spacing:0.284px;-webkit-text-stroke:.3px #fff;">74%</span>
<span class="t" style="left:424.24px;top:564.04px;font-size:12.5px;letter-spacing:0.284px;-webkit-text-stroke:.3px #fff;">78%</span>
<span class="t" style="left:440.94px;top:540.6px;font-size:12.5px;letter-spacing:0.284px;-webkit-text-stroke:.3px #fff;">82%</span>
<span class="t" style="left:457.65px;top:552.32px;font-size:12.5px;letter-spacing:0.284px;-webkit-text-stroke:.3px #fff;">80%</span>
<span class="t" style="left:474.36px;top:523.02px;font-size:12.5px;letter-spacing:0.284px;-webkit-text-stroke:.3px #fff;">85%</span>
<span class="t" style="left:491.06px;top:540.6px;font-size:12.5px;letter-spacing:0.284px;-webkit-text-stroke:.3px #fff;">82%</span>
<span class="t" style="left:507.77px;top:558.18px;font-size:12.5px;letter-spacing:0.284px;-webkit-text-stroke:.3px #fff;">79%</span>
<span class="t" style="left:524.48px;top:534.74px;font-size:12.5px;letter-spacing:0.284px;-webkit-text-stroke:.3px #fff;">83%</span>
<span class="t" style="left:541.19px;top:511.3px;font-size:12.5px;letter-spacing:0.284px;-webkit-text-stroke:.3px #fff;">87%</span>
<span class="t" style="left:557.89px;top:528.88px;font-size:12.5px;letter-spacing:0.284px;-webkit-text-stroke:.3px #fff;">84%</span>
<span class="t" style="left:574.6px;top:517.16px;font-size:12.5px;letter-spacing:0.284px;-webkit-text-stroke:.3px #fff;">86%</span>
<span class="t" style="left:325.5px;top:761.39px;font-size:12.3px;letter-spacing:-0.285px;transform-origin:100%% 50%%;transform:rotate(-30deg);-webkit-text-stroke:.3px #fff;">2 Sep</span>
<span class="t" style="left:358.91px;top:761.39px;font-size:12.3px;letter-spacing:-0.285px;transform-origin:100%% 50%%;transform:rotate(-30deg);-webkit-text-stroke:.3px #fff;">4 Sep</span>
<span class="t" style="left:392.33px;top:761.39px;font-size:12.3px;letter-spacing:-0.285px;transform-origin:100%% 50%%;transform:rotate(-30deg);-webkit-text-stroke:.3px #fff;">6 Sep</span>
<span class="t" style="left:425.74px;top:761.39px;font-size:12.3px;letter-spacing:-0.285px;transform-origin:100%% 50%%;transform:rotate(-30deg);-webkit-text-stroke:.3px #fff;">8 Sep</span>
<span class="t" style="left:452.16px;top:761.39px;font-size:12.3px;letter-spacing:-0.197px;transform-origin:100%% 50%%;transform:rotate(-30deg);-webkit-text-stroke:.3px #fff;">10 Sep</span>
<span class="t" style="left:485.57px;top:761.39px;font-size:12.3px;letter-spacing:-0.197px;transform-origin:100%% 50%%;transform:rotate(-30deg);-webkit-text-stroke:.3px #fff;">12 Sep</span>
<span class="t" style="left:518.99px;top:761.39px;font-size:12.3px;letter-spacing:-0.197px;transform-origin:100%% 50%%;transform:rotate(-30deg);-webkit-text-stroke:.3px #fff;">14 Sep</span>
<span class="t" style="left:552.4px;top:761.39px;font-size:12.3px;letter-spacing:-0.197px;transform-origin:100%% 50%%;transform:rotate(-30deg);-webkit-text-stroke:.3px #fff;">16 Sep</span>
</div>
<div class="card" style="left:644px;top:378px;width:696px;height:442px"></div>
<span class="t" style="left:670.3px;top:402.62px;font-size:18.4px;letter-spacing:-0.037px;-webkit-text-stroke:.3px #fff;">Average Room Rate</span>
<span class="t" style="left:728.6px;top:431.89px;font-size:12.3px;letter-spacing:-0.584px;-webkit-text-stroke:.3px #fff;">USD</span>
<svg width="1364" height="940" viewBox="0 0 1364 940" fill="none"><defs><linearGradient id="g4" gradientUnits="userSpaceOnUse" x1="0" y1="498" x2="0" y2="681.94"><stop offset="0" stop-color="#cd8c4f"/><stop offset="1" stop-color="#375576"/></linearGradient><linearGradient id="g3" gradientUnits="userSpaceOnUse" x1="0" y1="627.19" x2="0" y2="721.3"><stop offset="0" stop-color="#2b53e0"/><stop offset="1" stop-color="#1b3f98"/></linearGradient><linearGradient id="g2" gradientUnits="userSpaceOnUse" x1="0" y1="690.5" x2="0" y2="748.68"><stop offset="0" stop-color="#2cd65f"/><stop offset="1" stop-color="#1e7a6c"/></linearGradient><linearGradient id="g1" gradientUnits="userSpaceOnUse" x1="0" y1="735.84" x2="0" y2="767.5"><stop offset="0" stop-color="#0bb4dc"/><stop offset="1" stop-color="#0b588e"/></linearGradient></defs><path d="M731.0 715.5H1293.0" stroke="rgba(255,255,255,.13)" stroke-width="1"/><path d="M731.0 664.5H1293.0" stroke="rgba(255,255,255,.13)" stroke-width="1"/><path d="M731.0 613.5H1293.0" stroke="rgba(255,255,255,.13)" stroke-width="1"/><path d="M731.0 561.5H1293.0" stroke="rgba(255,255,255,.13)" stroke-width="1"/><path d="M731.0 510.5H1293.0" stroke="rgba(255,255,255,.13)" stroke-width="1"/><path d="M731.0 459.5H1293.0" stroke="rgba(255,255,255,.13)" stroke-width="1"/><path d="M731 587.83C731 587.83 757.39 597.24 782.09 597.24C808.48 597.24 814.06 594.08 833.18 575.51C865.15 544.46 860.73 498 884.27 498C911.82 498 900.77 575.89 935.36 593.82C951.86 602.38 960.82 602.38 986.45 602.38C1011.91 602.38 1012.3 601.04 1037.55 596.39C1063.39 591.63 1063.66 591.71 1088.64 583.56C1114.75 575.03 1114.41 573.83 1139.73 563.02C1165.5 552.01 1166.16 553.14 1190.82 539.92C1217.25 525.76 1214.34 508.27 1241.91 508.27C1265.44 508.27 1293 512.89 1293 512.89L1293 635.74C1293 635.74 1266.68 631.98 1241.91 631.98C1215.59 631.98 1216.84 643 1190.82 650.8C1165.75 658.32 1165.43 657.49 1139.73 662.61C1114.34 667.67 1114.24 667.3 1088.64 671.16C1063.15 675 1063.18 675.43 1037.55 678.01C1012.09 680.57 1011.94 681.43 986.45 681.43C960.85 681.43 956.91 681.43 935.36 675.44C905.82 667.23 910.56 626.85 884.27 626.85C859.47 626.85 861.87 657.4 833.18 669.45C810.78 678.86 807.79 678.86 782.09 678.86C756.69 678.86 731 673.73 731 673.73Z" fill="url(#g4)"/><path d="M731 673.73C731 673.73 756.69 678.86 782.09 678.86C807.79 678.86 810.78 678.86 833.18 669.45C861.87 657.4 859.47 626.85 884.27 626.85C910.56 626.85 905.82 667.23 935.36 675.44C956.91 681.43 960.85 681.43 986.45 681.43C1011.94 681.43 1012.09 680.57 1037.55 678.01C1063.18 675.43 1063.15 675 1088.64 671.16C1114.24 667.3 1114.34 667.67 1139.73 662.61C1165.43 657.49 1165.75 658.32 1190.82 650.8C1216.84 643 1215.59 631.98 1241.91 631.98C1266.68 631.98 1293 635.74 1293 635.74L1293 694.09C1293 694.09 1267.25 692.38 1241.91 692.38C1216.16 692.38 1216.46 697.71 1190.82 701.79C1165.37 705.84 1165.32 705.64 1139.73 708.64C1114.23 711.63 1114.22 711.63 1088.64 713.77C1063.13 715.91 1063.09 715.48 1037.55 717.19C1012 718.9 1011.96 720.62 986.45 720.62C960.87 720.62 959.54 720.62 935.36 715.48C908.45 709.77 910.15 689.82 884.27 689.82C859.06 689.82 859.75 705.57 833.18 712.06C808.66 718.05 807.71 718.05 782.09 718.05C756.61 718.05 731 715.31 731 715.31Z" fill="url(#g3)"/><path d="M731 715.31C731 715.31 756.61 718.05 782.09 718.05C807.71 718.05 808.66 718.05 833.18 712.06C859.75 705.57 859.06 689.82 884.27 689.82C910.15 689.82 908.45 709.77 935.36 715.48C959.54 720.62 960.87 720.62 986.45 720.62C1011.96 720.62 1012 718.9 1037.55 717.19C1063.09 715.48 1063.13 715.91 1088.64 713.77C1114.22 711.63 1114.23 711.63 1139.73 708.64C1165.32 705.64 1165.37 705.84 1190.82 701.79C1216.46 697.71 1216.16 692.38 1241.91 692.38C1267.25 692.38 1293 694.09 1293 694.09L1293 736.53C1293 736.53 1267.41 735.5 1241.91 735.5C1216.31 735.5 1216.4 738.32 1190.82 740.12C1165.31 741.92 1165.27 741.41 1139.73 742.69C1114.18 743.97 1114.19 744.1 1088.64 745.26C1063.1 746.41 1063.1 746.54 1037.55 747.31C1012.01 748.08 1011.99 748.34 986.45 748.34C960.9 748.34 960.63 748.34 935.36 746.11C909.53 743.84 909.9 734.99 884.27 734.99C858.81 734.99 858.92 741.45 833.18 744.4C807.83 747.31 807.65 747.31 782.09 747.31C756.56 747.31 731 745.94 731 745.94Z" fill="url(#g2)"/><path d="M731 745.94C731 745.94 756.56 747.31 782.09 747.31C807.65 747.31 807.83 747.31 833.18 744.4C858.92 741.45 858.81 734.99 884.27 734.99C909.9 734.99 909.53 743.84 935.36 746.11C960.63 748.34 960.9 748.34 986.45 748.34C1011.99 748.34 1012.01 748.08 1037.55 747.31C1063.1 746.54 1063.1 746.41 1088.64 745.26C1114.19 744.1 1114.18 743.97 1139.73 742.69C1165.27 741.41 1165.31 741.92 1190.82 740.12C1216.4 738.32 1216.31 735.5 1241.91 735.5C1267.41 735.5 1293 736.53 1293 736.53L1293 767.5L731 767.5Z" fill="url(#g1)"/><path d="M731.0 715.5H1293.0" stroke="rgba(255,255,255,.06)" stroke-width="1"/><path d="M731.0 664.5H1293.0" stroke="rgba(255,255,255,.06)" stroke-width="1"/><path d="M731.0 613.5H1293.0" stroke="rgba(255,255,255,.06)" stroke-width="1"/><path d="M731.0 561.5H1293.0" stroke="rgba(255,255,255,.06)" stroke-width="1"/><path d="M731.0 510.5H1293.0" stroke="rgba(255,255,255,.06)" stroke-width="1"/><path d="M731.0 767.5H1294.0" stroke="rgba(255,255,255,.5)" stroke-width="1"/><path d="M731.5 767.5v5" stroke="rgba(255,255,255,.5)" stroke-width="1"/><path d="M782.5 767.5v5" stroke="rgba(255,255,255,.5)" stroke-width="1"/><path d="M833.5 767.5v5" stroke="rgba(255,255,255,.5)" stroke-width="1"/><path d="M884.5 767.5v5" stroke="rgba(255,255,255,.5)" stroke-width="1"/><path d="M935.5 767.5v5" stroke="rgba(255,255,255,.5)" stroke-width="1"/><path d="M986.5 767.5v5" stroke="rgba(255,255,255,.5)" stroke-width="1"/><path d="M1037.5 767.5v5" stroke="rgba(255,255,255,.5)" stroke-width="1"/><path d="M1088.5 767.5v5" stroke="rgba(255,255,255,.5)" stroke-width="1"/><path d="M1139.5 767.5v5" stroke="rgba(255,255,255,.5)" stroke-width="1"/><path d="M1190.5 767.5v5" stroke="rgba(255,255,255,.5)" stroke-width="1"/><path d="M1241.5 767.5v5" stroke="rgba(255,255,255,.5)" stroke-width="1"/><path d="M1293.5 767.5v5" stroke="rgba(255,255,255,.5)" stroke-width="1"/><circle cx="959" cy="415.300" r="5.300" fill="#fff" stroke="#0dcaf0" stroke-width="2.200"/><circle cx="1050.3" cy="415.300" r="5.300" fill="#fff" stroke="#2ee85a" stroke-width="2.200"/><circle cx="1129.2" cy="415.300" r="5.300" fill="#fff" stroke="#3355ee" stroke-width="2.200"/><circle cx="1197.3" cy="415.300" r="5.300" fill="#fff" stroke="#ff9f43" stroke-width="2.200"/></svg>
<span class="t" style="left:976.4px;top:409.19px;font-size:12.3px;letter-spacing:0.225px;-webkit-text-stroke:.3px #fff;">Standard</span>
<span class="t" style="left:1068px;top:409.19px;font-size:12.3px;letter-spacing:0.104px;-webkit-text-stroke:.3px #fff;">Deluxe</span>
<span class="t" style="left:1146.7px;top:409.19px;font-size:12.3px;letter-spacing:0.117px;-webkit-text-stroke:.3px #fff;">Suite</span>
<span class="t" style="left:1215.3px;top:409.19px;font-size:12.3px;letter-spacing:0.176px;-webkit-text-stroke:.3px #fff;">Presidential</span>
<span class="t" style="left:708.2px;top:761.09px;font-size:12.3px;letter-spacing:1.113px;-webkit-text-stroke:.3px #fff;">$0</span>
<span class="t" style="left:693.2px;top:709.09px;font-size:12.3px;letter-spacing:0.814px;-webkit-text-stroke:.3px #fff;">$300</span>
<span class="t" style="left:693px;top:658.09px;font-size:12.3px;letter-spacing:0.88px;-webkit-text-stroke:.3px #fff;">$600</span>
<span class="t" style="left:693px;top:607.09px;font-size:12.3px;letter-spacing:0.88px;-webkit-text-stroke:.3px #fff;">$900</span>
<span class="t" style="left:685px;top:555.09px;font-size:12.3px;letter-spacing:0.075px;-webkit-text-stroke:.3px #fff;">$1,200</span>
<span class="t" style="left:685px;top:504.09px;font-size:12.3px;letter-spacing:0.075px;-webkit-text-stroke:.3px #fff;">$1,500</span>
<span class="t" style="left:685.2px;top:453.09px;font-size:12.3px;letter-spacing:0.035px;-webkit-text-stroke:.3px #fff;">$1,800</span>
<span class="t" style="left:720px;top:775.09px;font-size:12.3px;letter-spacing:0.055px;-webkit-text-stroke:.3px #fff;">Sep</span>
<span class="t" style="left:771.94px;top:775.09px;font-size:12.3px;letter-spacing:0.58px;-webkit-text-stroke:.3px #fff;">Oct</span>
<span class="t" style="left:821.68px;top:775.09px;font-size:12.3px;letter-spacing:0.562px;-webkit-text-stroke:.3px #fff;">Nov</span>
<span class="t" style="left:873.02px;top:775.09px;font-size:12.3px;letter-spacing:0.312px;-webkit-text-stroke:.3px #fff;">Dec</span>
<span class="t" style="left:924.96px;top:775.09px;font-size:12.3px;letter-spacing:0.486px;-webkit-text-stroke:.3px #fff;">Jan</span>
<span class="t" style="left:975.8px;top:775.09px;font-size:12.3px;letter-spacing:0.048px;-webkit-text-stroke:.3px #fff;">Feb</span>
<span class="t" style="left:1026.55px;top:775.09px;font-size:12.3px;letter-spacing:0.406px;-webkit-text-stroke:.3px #fff;">Mar</span>
<span class="t" style="left:1078.39px;top:775.09px;font-size:12.3px;letter-spacing:0.68px;-webkit-text-stroke:.3px #fff;">Apr</span>
<span class="t" style="left:1127.58px;top:775.09px;font-size:12.3px;letter-spacing:0.533px;-webkit-text-stroke:.3px #fff;">May</span>
<span class="t" style="left:1180.42px;top:775.09px;font-size:12.3px;letter-spacing:0.486px;-webkit-text-stroke:.3px #fff;">Jun</span>
<span class="t" style="left:1233.51px;top:775.09px;font-size:12.3px;letter-spacing:0.533px;-webkit-text-stroke:.3px #fff;">Jul</span>
<span class="t" style="left:1281.7px;top:775.09px;font-size:12.3px;letter-spacing:0.355px;-webkit-text-stroke:.3px #fff;">Aug</span>
</body></html>
